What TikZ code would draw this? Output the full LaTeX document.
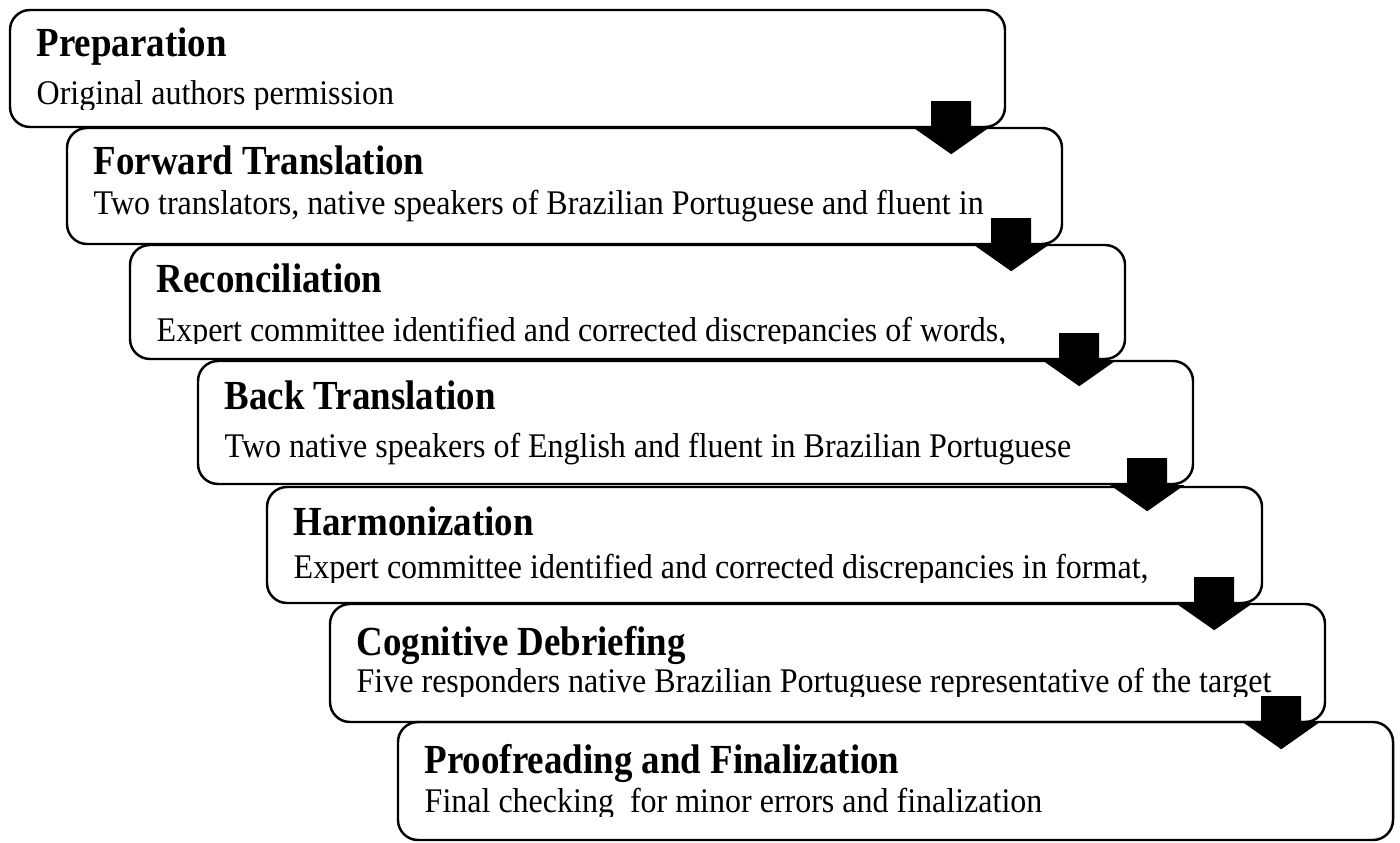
\documentclass[tikz,border=0pt]{standalone}
\usepackage{fontspec}
\setmainfont{Liberation Serif}
\usetikzlibrary{fit}

\tikzset{
  stepbox/.style={draw, line width=0.7pt, rounded corners=0.2cm, inner sep=0pt},
  steptitle/.style={anchor=base west, inner sep=0pt, yscale=1.12,
    font=\fontsize{10.5}{12}\selectfont\bfseries},
  stepbody/.style={anchor=base west, inner sep=0pt, yscale=1.08,
    font=\fontsize{9.1}{11}\selectfont},
  blockarrow/.style={fill=black}
}

\begin{document}
\begin{tikzpicture}[x=0.01cm, y=-0.01cm]
    \useasboundingbox (0,0) rectangle (1400,843);
    % the seven stages
    \foreach \n/\l/\t/\b/\tb/\bb/\cl/\head/\body in {
        1/10/10/127/57/105/110/Preparation/Original authors permission,
        2/67/128/244/175/215/224/Forward Translation/{Two translators, native speakers of Brazilian Portuguese and fluent in},
        3/130/245/359/293/342/344/Reconciliation/{Expert committee identified and corrected discrepancies of words,},
        4/198/361/484/410/458/484/Back Translation/Two native speakers of English and fluent in Brazilian Portuguese,
        5/267/487/603/535/578/582/Harmonization/{Expert committee identified and corrected discrepancies in format,},
        6/330/604/722/655/692/696/Cognitive Debriefing/Five responders native Brazilian Portuguese representative of the target,
        7/398/722/840/773/812/816/Proofreading and Finalization/Final checking \ for minor errors and finalization
    }{
        \node[stepbox, fit={(\l,\t) (\l+995,\b)}] (s\n) {};
        \node[steptitle] (h\n) at (\l+26,\tb) {\head};
        \begin{scope}
            \clip (\l,\t) rectangle (\l+995,\cl);
            \node[stepbody] (d\n) at (\l+26,\bb) {\body};
        \end{scope}
    }
    % block arrows between the stages
    \foreach \n/\off in {1/55, 2/52, 3/47, 4/47, 5/49, 6/45}{
        \coordinate (a\n) at ([xshift=-\off*0.01cm]s\n.south east);
        \fill[blockarrow] (a\n) ++(-20,-27) -- ++(40,0) -- ++(0,27) -- ++(17,0)
            -- ++(-37,26) -- ++(-37,-26) -- ++(17,0) -- cycle;
    }
\end{tikzpicture}
\end{document}
